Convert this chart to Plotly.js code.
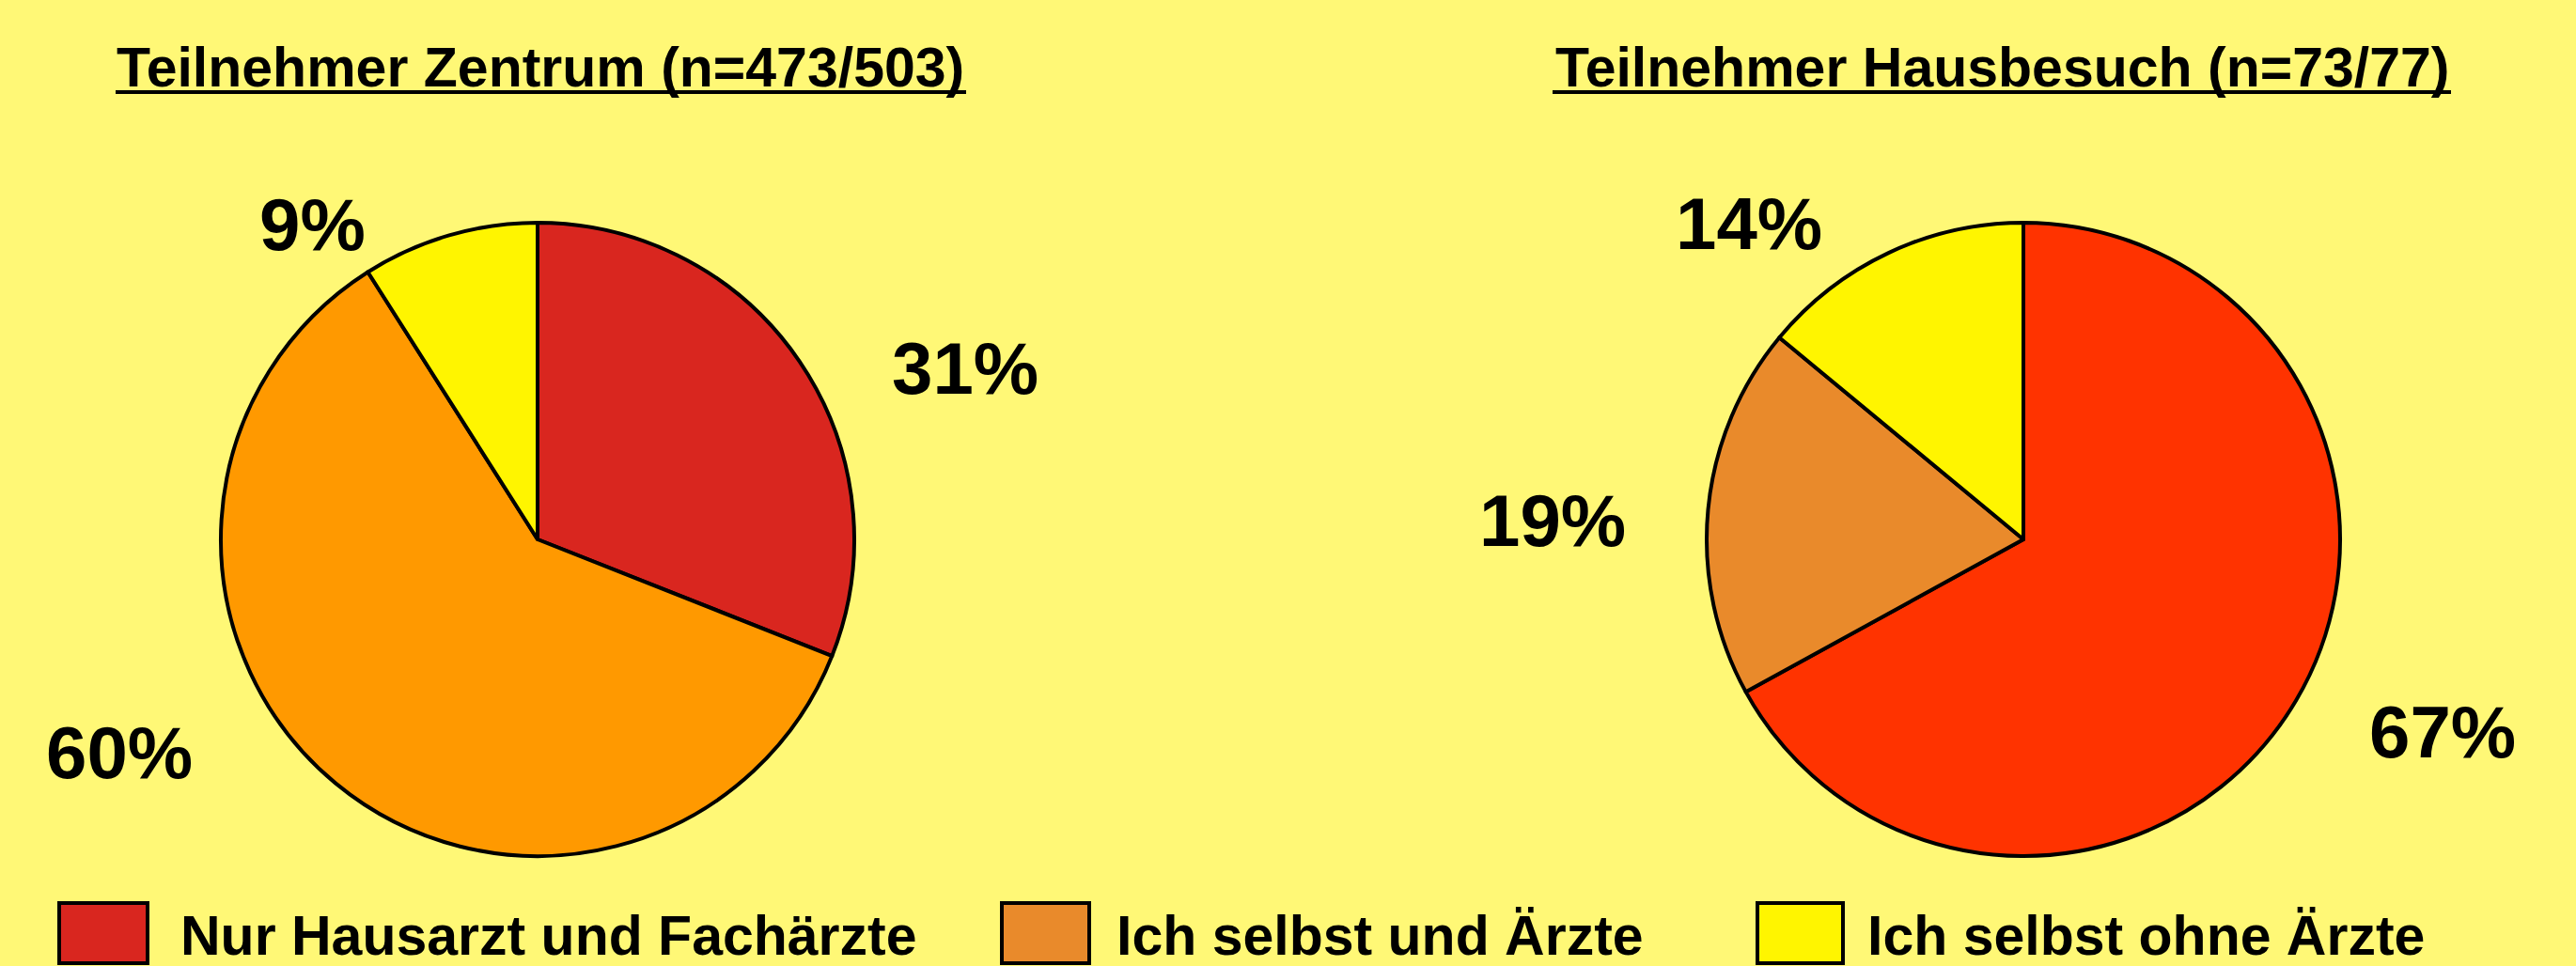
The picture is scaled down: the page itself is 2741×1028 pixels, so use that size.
<!DOCTYPE html>
<html>
<head>
<meta charset="utf-8">
<script src="https://cdn.plot.ly/plotly-3.0.1.min.js"></script>
<style>
  html, body { margin: 0; padding: 0; background: #FFF876; }
  #chart { width: 2741px; height: 1028px; }
</style>
</head>
<body>
<div id="chart"></div>
<script>
// ---- data ----
const categories = ['Nur Hausarzt und Fachärzte', 'Ich selbst und Ärzte', 'Ich selbst ohne Ärzte'];
const pieTitles = ['Teilnehmer Zentrum (n=473/503)', 'Teilnehmer Hausbesuch (n=73/77)'];
const zentrumValues = [31, 60, 9];
const hausbesuchValues = [67, 19, 14];

// ---- styles ----
const zentrumColors = ['#D9261F', '#FF9900', '#FFF500'];
const hausbesuchColors = ['#FF3300', '#E98A2B', '#FFF500'];
const legendColors = ['#D9261F', '#E98A2B', '#FFF500'];
const bg = '#FFF876';
const fontFamily = '"Liberation Sans", Arial, Helvetica, sans-serif';

const W = 2741, H = 1028;
const px = x => x / W;
const py = y => 1 - y / H;

// pie geometry (pixels)
const R = 337;
const centers = [[572, 574], [2153, 574]];
function dom(c) {
  return { x: [px(c[0] - R), px(c[0] + R)], y: [py(c[1] + R), py(c[1] - R)] };
}

const traces = [zentrumValues, hausbesuchValues].map((vals, i) => ({
  type: 'pie',
  labels: categories,
  values: vals,
  sort: false,
  direction: 'clockwise',
  rotation: 0,
  textinfo: 'none',
  hoverinfo: 'skip',
  showlegend: false,
  automargin: false,
  domain: dom(centers[i]),
  marker: { colors: i === 0 ? zentrumColors : hausbesuchColors, line: { color: '#000000', width: 4 } }
}));

// percentage label positions (pixels, center)
const pctPos = [
  [[1027, 388], [127, 797], [332, 235]],
  [[2599, 775], [1652, 550], [1861, 234]]
];

const annotations = [];
const shapes = [];
[zentrumValues, hausbesuchValues].forEach((vals, i) => {
  vals.forEach((v, j) => {
    annotations.push({
      xref: 'paper', yref: 'paper',
      x: px(pctPos[i][j][0]), y: py(pctPos[i][j][1] + 4),
      xanchor: 'center', yanchor: 'middle',
      text: v + '%', showarrow: false,
      font: { family: fontFamily, size: 78, color: '#000000', weight: 'bold' }
    });
  });
});

// titles with underline
const titlePos = [[575, 72], [2130, 72]];
const underlines = [[123, 1028], [1652, 2608]];
pieTitles.forEach((t, i) => {
  annotations.push({
    xref: 'paper', yref: 'paper',
    x: px(titlePos[i][0]), y: py(titlePos[i][1]),
    xanchor: 'center', yanchor: 'middle',
    text: t,
    showarrow: false,
    font: { family: fontFamily, size: 59, color: '#000000', weight: 'bold' }
  });
  shapes.push({
    type: 'line', xref: 'paper', yref: 'paper',
    x0: px(underlines[i][0]), x1: px(underlines[i][1]),
    y0: py(98), y1: py(98),
    line: { color: '#000000', width: 4 }
  });
});

// custom legend
const legendBoxes = [[63, 157], [1066, 1159], [1870, 1961]];
const legendTextX = [190, 1186, 1985];
categories.forEach((c, k) => {
  shapes.push({
    type: 'rect', xref: 'paper', yref: 'paper',
    x0: px(legendBoxes[k][0]), x1: px(legendBoxes[k][1]),
    y0: py(1025), y1: py(961),
    fillcolor: legendColors[k],
    line: { color: '#000000', width: 4 }
  });
  annotations.push({
    xref: 'paper', yref: 'paper',
    x: px(legendTextX[k]), y: py(996),
    xanchor: 'left', yanchor: 'middle',
    text: c, showarrow: false,
    font: { family: fontFamily, size: 59, color: '#000000', weight: 'bold' }
  });
});

const layout = {
  width: W, height: H,
  margin: { l: 0, r: 0, t: 0, b: 0 },
  paper_bgcolor: bg,
  plot_bgcolor: bg,
  showlegend: false,
  annotations: annotations,
  shapes: shapes
};

Plotly.newPlot('chart', traces, layout, { displayModeBar: false, staticPlot: true });
</script>
</body>
</html>
